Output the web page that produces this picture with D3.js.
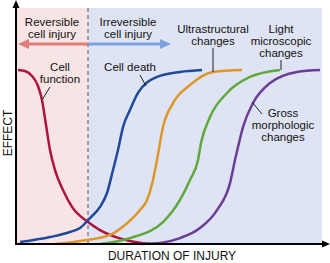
<!DOCTYPE html>
<html>
<head>
<meta charset="utf-8">
<script src="https://cdn.jsdelivr.net/npm/d3@7"></script>
<style>
body { margin:0; background:#fff; }
text { font-family: "Liberation Sans", Arial, sans-serif; fill:#111; }
</style>
</head>
<body>
<svg id="chart" width="330" height="263"></svg>
<script>
// duration of injury (arbitrary units) / effect (% of max)
var phases = ["Reversible cell injury", "Irreversible cell injury"];
var phase_limit = 72; // end of reversible phase

var fn_x = [2, 9, 16, 22, 26, 30, 34, 39, 47, 56, 72, 84, 94, 114, 134];
var fn_y = [100, 99.4, 96.6, 90.8, 82.8, 68.4, 54, 42.5, 31, 21.3, 12.6, 8, 5.2, 1.7, 0];

var death_x = [4, 34, 54, 64, 74, 84, 91, 97, 102, 107, 114, 122, 141, 164, 186];
var death_y = [1.1, 4, 6.9, 9.2, 14.9, 21.3, 29.3, 42.5, 54, 67.2, 77, 86.8, 96, 98.9, 100];

var ultra_x = [39, 64, 94, 109, 124, 131, 137, 141, 147, 157, 174, 197, 226];
var ultra_y = [0, 1.7, 5.2, 10.9, 19.5, 25.3, 36.8, 48.3, 67.2, 81, 91.4, 98.9, 100];

var light_x = [84, 114, 147, 164, 174, 182, 185, 194, 211, 234, 264];
var light_y = [0, 3.4, 12.6, 25.3, 36.8, 48.3, 58, 73, 86.8, 96, 100];

var gross_x = [124, 144, 164, 184, 201, 214, 219, 222, 227, 237, 254, 281, 304];
var gross_y = [0, 0.6, 3.4, 9.2, 19.5, 35, 48.3, 55.7, 67.2, 81, 92.5, 98.9, 100];

var series_names = ["Cell function", "Cell death", "Ultrastructural changes", "Light microscopic changes", "Gross morphologic changes"];
var series_colors = ["#b0143c", "#1d4a9a", "#dd962c", "#5ea83c", "#6c3d94"];

var svg = d3.select("#chart");

var plot_left = 16, plot_right = 322, plot_top = 8, plot_bottom = 244;
var fsize = "11.5px", gap = 12;

var x = d3.scaleLinear().domain([0, 306]).range([plot_left, plot_right]);
var y = d3.scaleLinear().domain([0, 100]).range([plot_bottom, 70]);

// phase backgrounds
svg.append("rect")
	.attr("x", x(0)).attr("y", plot_top)
	.attr("width", x(phase_limit) - x(0)).attr("height", plot_bottom - plot_top)
	.style("fill", "#f7e5e5");
svg.append("rect")
	.attr("x", x(phase_limit)).attr("y", plot_top)
	.attr("width", x(306) - x(phase_limit)).attr("height", plot_bottom - plot_top)
	.style("fill", "#dfe4f4");

svg.append("line")
	.attr("x1", x(phase_limit)).attr("x2", x(phase_limit))
	.attr("y1", plot_top).attr("y2", plot_bottom)
	.style("stroke", "#555").style("stroke-width", 1).style("stroke-dasharray", "4,3");

// text block, one line per entry
function label(cx, y0, lines) {
	var t = svg.append("text").attr("text-anchor", "middle").style("font-size", fsize);
	lines.forEach(function(l, k) {
		t.append("tspan").attr("x", cx).attr("y", y0 + k * gap).text(l);
	});
	return t;
}
label(52, 26, ["Reversible", "cell injury"]);
label(128, 26, ["Irreversible", "cell injury"]);

function arrow(xa, xb, yy, color) {
	var dir = xb > xa ? 1 : -1;
	svg.append("line")
		.attr("x1", xa).attr("x2", xb - dir * 8)
		.attr("y1", yy).attr("y2", yy)
		.style("stroke", color).style("stroke-width", 3);
	svg.append("path")
		.attr("d", "M" + xb + "," + yy + "L" + (xb - dir * 11) + "," + (yy - 5) + "L" + (xb - dir * 11) + "," + (yy + 5) + "Z")
		.style("fill", color);
}
arrow(x(phase_limit), 18, 44, "#de7c7c");
arrow(x(phase_limit), 171, 44, "#80a0de");

// curves
var all_x = [fn_x, death_x, ultra_x, light_x, gross_x];
var all_y = [fn_y, death_y, ultra_y, light_y, gross_y];
var line = d3.line().x(function(d) { return x(d[0]); }).y(function(d) { return y(d[1]); }).curve(d3.curveMonotoneX);

for (var i = 0; i < all_x.length; i++) {
	var pts = all_x[i].map(function(v, k) { return [v, all_y[i][k]]; });
	svg.append("path")
		.attr("d", line(pts))
		.style("fill", "none")
		.style("stroke", series_colors[i])
		.style("stroke-width", 2.5);
}

// curve labels with leader lines
label(60, 71, ["Cell", "function"]);
label(130, 71, ["Cell death"]);
label(213, 33, ["Ultrastructural", "changes"]);
label(281, 33, ["Light", "microscopic", "changes"]);
label(283, 117, ["Gross", "morphologic", "changes"]);

var leaders = [[50, 87, 42, 100], [140, 75, 146, 86], [213, 48, 213, 72], [281, 60, 281, 70], [262, 114, 252, 102]];
leaders.forEach(function(l) {
	svg.append("line").attr("x1", l[0]).attr("y1", l[1]).attr("x2", l[2]).attr("y2", l[3])
		.style("stroke", "#222").style("stroke-width", 1);
});

// axes
svg.append("line").attr("x1", plot_left).attr("x2", plot_left).attr("y1", plot_bottom + 1).attr("y2", 6)
	.style("stroke", "#000").style("stroke-width", 2);
svg.append("path").attr("d", "M16,0L12.5,8L19.5,8Z").style("fill", "#000");
svg.append("line").attr("x1", plot_left - 1).attr("x2", 323).attr("y1", plot_bottom).attr("y2", plot_bottom)
	.style("stroke", "#000").style("stroke-width", 2);
svg.append("path").attr("d", "M330,244L322,240.5L322,247.5Z").style("fill", "#000");

svg.append("text").attr("text-anchor", "middle").style("font-size", "12px")
	.attr("transform", "translate(12,133) rotate(-90)").text("EFFECT");
svg.append("text").attr("text-anchor", "middle").style("font-size", "12px")
	.attr("x", 172).attr("y", 260).text("DURATION OF INJURY");
</script>
</body>
</html>
